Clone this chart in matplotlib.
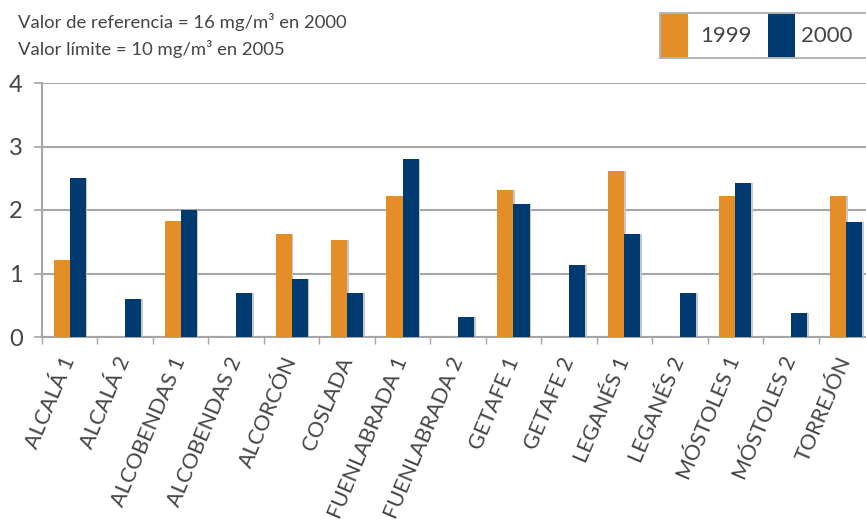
import numpy as np
import matplotlib
matplotlib.use("Agg")
import matplotlib.pyplot as plt
from matplotlib.patches import Rectangle

plt.rcParams['font.family'] = ['Lato', 'DejaVu Sans']

# data
stations = ["ALCALÁ 1", "ALCALÁ 2", "ALCOBENDAS 1", "ALCOBENDAS 2", "ALCORCÓN",
            "COSLADA", "FUENLABRADA 1", "FUENLABRADA 2", "GETAFE 1", "GETAFE 2",
            "LEGANÉS 1", "LEGANÉS 2", "MÓSTOLES 1", "MÓSTOLES 2", "TORREJÓN"]
vals_1999 = [1.22, 0, 1.82, 0, 1.62, 1.52, 2.22, 0, 2.31, 0, 2.61, 0, 2.22, 0, 2.22]
vals_2000 = [2.5, 0.6, 2.0, 0.7, 0.91, 0.7, 2.8, 0.31, 2.1, 1.13, 1.62, 0.7, 2.42, 0.38, 1.81]
years = ["1999", "2000"]

orange = "#E38E26"
blue = "#003A70"
gray = "#A6A6A6"
txt = "#444444"

fig = plt.figure(figsize=(8.66, 5.25), dpi=100)
ax = fig.add_axes([42/866, 188/525, 832/866, 254/525])

x = np.arange(len(stations))
w = 0.29
# soft shadow behind the bars
ax.bar(x - w/2 + 0.03, vals_1999, w, color="#C8C8C8", zorder=2)
ax.bar(x + w/2 + 0.03, vals_2000, w, color="#C8C8C8", zorder=2)
ax.bar(x - w/2, vals_1999, w, color=orange, zorder=3)
ax.bar(x + w/2, vals_2000, w, color=blue, zorder=3)

ax.set_xlim(-0.5, len(stations) - 0.5)
ax.set_ylim(0, 4)
ax.set_yticks([0, 1, 2, 3, 4])
ax.set_yticklabels(["0", "1", "2", "3", "4"], fontsize=17, color=txt)
ax.yaxis.grid(True, color=gray, linewidth=1.5, zorder=1)
ax.tick_params(axis="y", length=6, width=1.2, color=gray, pad=8)

ax.set_xticks(x - 0.5, minor=False)
ax.set_xticklabels([])
ax.tick_params(axis="x", length=5, width=1, color=gray, direction="out")
ax.set_xticks(x, minor=True)
ax.set_xticklabels(stations, minor=True, rotation=67, ha="right", va="center",
                   rotation_mode="anchor", fontsize=15.5, color=txt)
ax.tick_params(axis="x", which="minor", length=0, pad=15)

for s in ["top", "right"]:
    ax.spines[s].set_visible(False)
for s in ["left", "bottom"]:
    ax.spines[s].set_color(gray)
    ax.spines[s].set_linewidth(1.5)

fig.text(18/866, 1 - 28/525, "Valor de referencia = 16 mg/m³ en 2000",
         fontsize=13.3, color=txt, va="baseline")
fig.text(18/866, 1 - 55/525, "Valor límite = 10 mg/m³ en 2005",
         fontsize=13.3, color=txt, va="baseline")

# legend box
fig.patches.append(Rectangle((660/866, 1 - 58/525), 220/866, 45/525,
                             transform=fig.transFigure, facecolor="white",
                             edgecolor=gray, linewidth=1.2))
fig.patches.append(Rectangle((661/866, 1 - 57/525), 27/866, 43/525,
                             transform=fig.transFigure, facecolor=orange, edgecolor="none"))
fig.patches.append(Rectangle((768/866, 1 - 57/525), 27/866, 43/525,
                             transform=fig.transFigure, facecolor=blue, edgecolor="none"))
fig.text(700/866, 1 - 36/525, years[0], fontsize=16, color=txt, va="center")
fig.text(801/866, 1 - 36/525, years[1], fontsize=16, color=txt, va="center")

fig.savefig("out.png", dpi=100)
